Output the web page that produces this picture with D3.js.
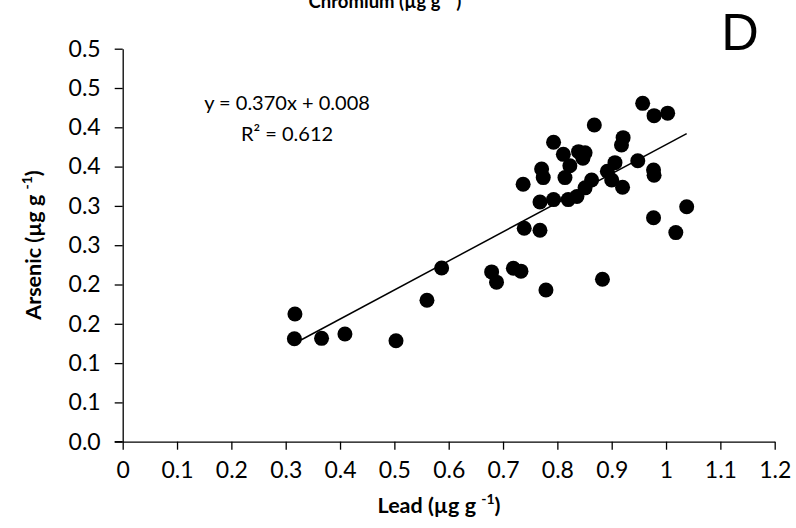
<!DOCTYPE html>
<html>
<head>
<meta charset="utf-8">
<script src="https://cdn.jsdelivr.net/npm/d3@7"></script>
<style>
  html, body { margin: 0; padding: 0; background: #fff; }
  svg { display: block; }
  text { font-family: Lato, "Open Sans", sans-serif; fill: #000; }
</style>
</head>
<body>
<svg id="chart" width="796" height="528"></svg>
<script>
// Lead vs arsenic concentrations (µg g-1)
const leadValues = [
  0.317, 0.316, 0.366, 0.409, 0.503, 0.560, 0.587,
  0.679, 0.688, 0.719, 0.733, 0.779, 0.739, 0.768, 0.883,
  0.977, 1.018, 1.038,
  0.737, 0.771, 0.774, 0.768, 0.793, 0.820, 0.836, 0.851, 0.863,
  0.793, 0.811, 0.839, 0.851, 0.847, 0.823, 0.814, 0.868,
  0.892, 0.900, 0.906, 0.920, 0.921, 0.918, 0.948,
  0.957, 0.978, 1.003, 0.977, 0.978
];
const arsenicValues = [
  0.1625, 0.131, 0.1315, 0.137, 0.1285, 0.180, 0.221,
  0.216, 0.203, 0.2206, 0.217, 0.193, 0.2715, 0.269, 0.2066,
  0.285, 0.266, 0.299,
  0.3275, 0.347, 0.336, 0.305, 0.308, 0.308, 0.312, 0.323, 0.333,
  0.381, 0.3656, 0.369, 0.3677, 0.3606, 0.351, 0.336, 0.403,
  0.344, 0.333, 0.355, 0.3237, 0.3868, 0.3775, 0.3575,
  0.4305, 0.4148, 0.418, 0.3457, 0.339
];

// Linear trend line
const trendSlope = 0.370;
const trendIntercept = 0.008;
const rSquared = 0.612;

// Axis ticks
const xTickValues = [0, 0.1, 0.2, 0.3, 0.4, 0.5, 0.6, 0.7, 0.8, 0.9, 1.0, 1.1, 1.2];
const xTickLabels = ["0", "0.1", "0.2", "0.3", "0.4", "0.5", "0.6", "0.7", "0.8", "0.9", "1", "1.1", "1.2"];
const yTickValues = [0, 0.05, 0.10, 0.15, 0.20, 0.25, 0.30, 0.35, 0.40, 0.45, 0.50];
const yTickLabels = ["0.0", "0.1", "0.1", "0.2", "0.2", "0.3", "0.3", "0.4", "0.4", "0.5", "0.5"];

const svg = d3.select("#chart");

const x = d3.scaleLinear().domain([0, 1.2]).range([122.7, 774.7]);
const y = d3.scaleLinear().domain([0, 0.5]).range([441.7, 48.7]);

// Axes
const xAxis = d3.axisBottom(x)
  .tickValues(xTickValues)
  .tickFormat((d, i) => xTickLabels[i])
  .tickSizeInner(8).tickSizeOuter(0).tickPadding(12);
const yAxis = d3.axisLeft(y)
  .tickValues(yTickValues)
  .tickFormat((d, i) => yTickLabels[i])
  .tickSizeInner(8).tickSizeOuter(0).tickPadding(14);

const gx = svg.append("g").attr("transform", `translate(0,${y(0)})`).call(xAxis);
const gy = svg.append("g").attr("transform", `translate(${x(0)},0)`).call(yAxis);

[gx, gy].forEach(g => {
  g.select(".domain").attr("stroke", "#000").attr("stroke-width", 1.3);
  g.selectAll(".tick line").attr("stroke", "#000").attr("stroke-width", 1.3);
  g.selectAll(".tick text")
    .style("font-family", "Lato, sans-serif")
    .style("font-size", "23px")
    .attr("fill", "#000");
});
// extend the x-axis baseline through the origin tick
gx.append("line").attr("x1", x(0) - 8).attr("x2", x(0)).attr("y1", 0).attr("y2", 0)
  .attr("stroke", "#000").attr("stroke-width", 1.3);

// Trend line over the observed lead range
const [xMin, xMax] = d3.extent(leadValues);
svg.append("line")
  .attr("x1", x(xMin)).attr("y1", y(trendSlope * xMin + trendIntercept))
  .attr("x2", x(xMax)).attr("y2", y(trendSlope * xMax + trendIntercept))
  .attr("stroke", "#000").attr("stroke-width", 1.5);

// Points
svg.append("g").selectAll("circle")
  .data(leadValues.map((v, i) => [v, arsenicValues[i]]))
  .join("circle")
  .attr("cx", d => x(d[0]))
  .attr("cy", d => y(d[1]))
  .attr("r", 7.5)
  .attr("fill", "#000");

// Equation and R²
svg.append("text")
  .attr("x", 287).attr("y", 110)
  .attr("text-anchor", "middle")
  .style("font-size", "20px")
  .text(`y = ${trendSlope.toFixed(3)}x + ${trendIntercept.toFixed(3)}`);
svg.append("text")
  .attr("x", 287).attr("y", 141)
  .attr("text-anchor", "middle")
  .style("font-size", "20px")
  .text(`R² = ${rSquared.toFixed(3)}`);

// Axis titles with superscript units
function unitTitle(sel, name, supSize, shift) {
  sel.append("tspan").text(`${name} (µg g `);
  sel.append("tspan").attr("dy", -shift).style("font-size", supSize).text("-1");
  sel.append("tspan").attr("dy", shift).text(")");
}

const xTitle = svg.append("text")
  .attr("x", 439).attr("y", 513)
  .attr("text-anchor", "middle")
  .style("font-size", "21.5px").style("font-weight", "bold");
unitTitle(xTitle, "Lead", "14px", 9);

const yTitle = svg.append("text")
  .attr("transform", "translate(41,245) rotate(-90)")
  .attr("text-anchor", "middle")
  .style("font-size", "21.5px").style("font-weight", "bold");
unitTitle(yTitle, "Arsenic", "14px", 9);

// Panel title of the chart above, running off the top edge
const topTitle = svg.append("text")
  .attr("x", 385).attr("y", 8)
  .attr("text-anchor", "middle")
  .style("font-size", "18.5px").style("font-weight", "bold");
unitTitle(topTitle, "Chromium", "12px", 8);

// Panel letter
svg.append("text")
  .attr("x", 740).attr("y", 50)
  .attr("text-anchor", "middle")
  .style("font-family", "'Liberation Sans', Arial, sans-serif")
  .style("font-size", "52px")
  .text("D");
</script>
</body>
</html>
